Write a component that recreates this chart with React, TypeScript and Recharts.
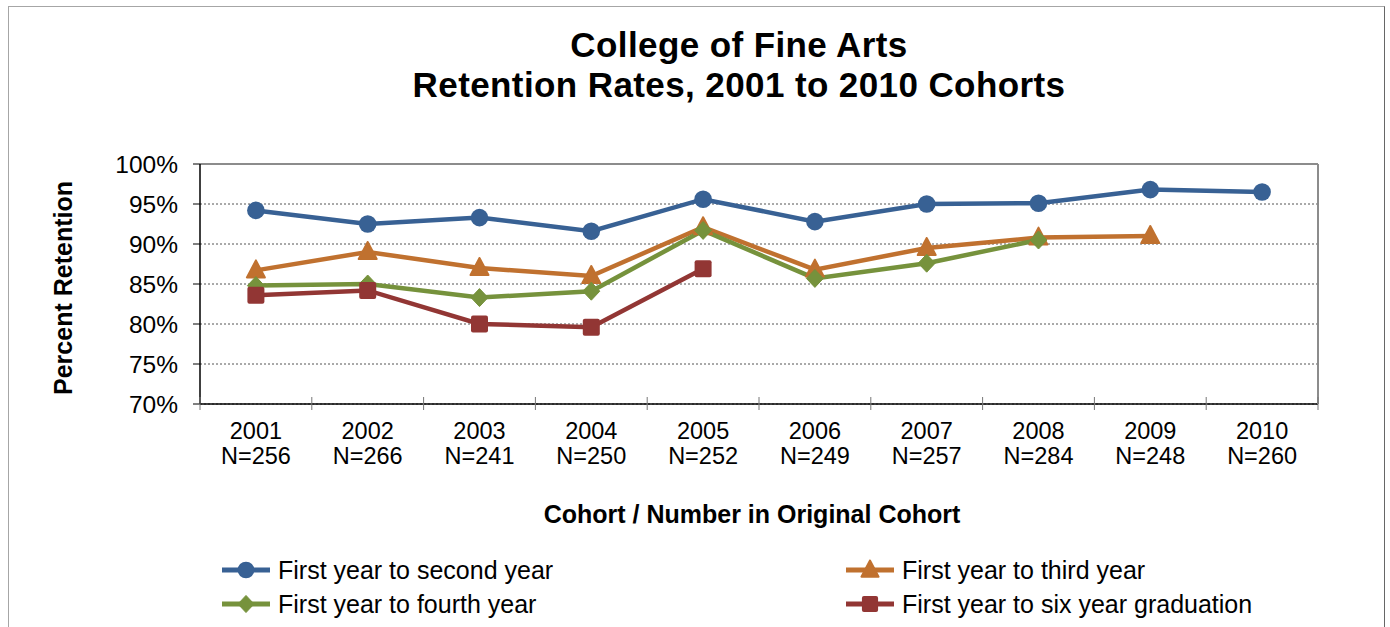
import React from 'react';
import { LineChart, Line, XAxis, YAxis, CartesianGrid, ReferenceLine, Legend } from 'recharts';

const years = ['2001', '2002', '2003', '2004', '2005', '2006', '2007', '2008', '2009', '2010'];
const cohortSizes = [256, 266, 241, 250, 252, 249, 257, 284, 248, 260];
const secondYear = [94.2, 92.5, 93.3, 91.6, 95.6, 92.8, 95.0, 95.1, 96.8, 96.5];
const thirdYear = [86.7, 89.0, 87.0, 86.0, 92.1, 86.8, 89.5, 90.8, 91.0, null];
const fourthYear = [84.8, 85.0, 83.3, 84.1, 91.7, 85.7, 87.6, 90.5, null, null];
const sixYearGrad = [83.6, 84.2, 80.0, 79.6, 86.9, null, null, null, null, null];
const yTicks = [70, 75, 80, 85, 90, 95, 100];

const titleLines = ['College of Fine Arts', 'Retention Rates, 2001 to 2010 Cohorts'];
const xTitle = 'Cohort / Number in Original Cohort';
const yTitle = 'Percent Retention';

const FONT = '"Liberation Sans", Arial, Helvetica, sans-serif';

type Shape = 'circle' | 'triangle' | 'diamond' | 'square';

const series: { key: string; name: string; color: string; shape: Shape; values: (number | null)[] }[] = [
  { key: 'second', name: 'First year to second year', color: '#386194', shape: 'circle', values: secondYear },
  { key: 'third', name: 'First year to third year', color: '#c0712f', shape: 'triangle', values: thirdYear },
  { key: 'fourth', name: 'First year to fourth year', color: '#76923c', shape: 'diamond', values: fourthYear },
  { key: 'six', name: 'First year to six year graduation', color: '#923634', shape: 'square', values: sixYearGrad },
];

const data = years.map((y, i) => {
  const row: any = { year: y, n: cohortSizes[i] };
  series.forEach((s) => {
    row[s.key] = s.values[i];
  });
  return row;
});

function marker(shape: Shape, cx: number, cy: number, color: string, scale = 1) {
  const s = scale;
  if (shape === 'circle') return <circle cx={cx} cy={cy} r={8.8 * s} fill={color} />;
  if (shape === 'triangle')
    return (
      <polygon
        points={`${cx},${cy - 10 * s} ${cx - 9 * s},${cy + 7 * s} ${cx + 9 * s},${cy + 7 * s}`}
        fill={color}
        stroke={color}
        strokeWidth={2}
        strokeLinejoin="round"
      />
    );
  if (shape === 'diamond')
    return (
      <polygon
        points={`${cx},${cy - 9 * s} ${cx + 8.5 * s},${cy} ${cx},${cy + 9 * s} ${cx - 8.5 * s},${cy}`}
        fill={color}
        stroke={color}
        strokeWidth={1}
        strokeLinejoin="round"
      />
    );
  return <rect x={cx - 8.5 * s} y={cy - 8.5 * s} width={17 * s} height={17 * s} rx={2} fill={color} />;
}

const makeDot = (shape: Shape, color: string) => (props: any) => {
  const { cx, cy, index, value } = props;
  if (cx == null || cy == null || value == null || Number.isNaN(cy)) return <g key={`d-${index}`} />;
  return <g key={`d-${index}`}>{marker(shape, cx, cy, color)}</g>;
};

const XTick = (props: any) => {
  const { x, y, payload, index, visibleTicksCount } = props;
  const off = payload && payload.offset ? payload.offset : 0;
  const n = cohortSizes[index];
  const isLast = index === (visibleTicksCount ? visibleTicksCount - 1 : years.length - 1);
  return (
    <g>
      <line x1={x - off} x2={x - off} y1={y - 7} y2={y + 6} stroke="#777" strokeWidth={1} />
      {isLast && <line x1={x + off} x2={x + off} y1={y - 7} y2={y + 6} stroke="#777" strokeWidth={1} />}
      <text x={x} y={y + 35} textAnchor="middle" fontSize={23.5} fontFamily={FONT} fill="#000">
        {payload.value}
      </text>
      <text x={x} y={y + 60} textAnchor="middle" fontSize={23.5} fontFamily={FONT} fill="#000">
        {`N=${n}`}
      </text>
    </g>
  );
};

const legendPos = [
  { left: 222, top: 22 },
  { left: 846, top: 22 },
  { left: 222, top: 56 },
  { left: 846, top: 56 },
];

const LegendContent = () => (
  <div style={{ position: 'relative', width: 1390, height: 80 }}>
    {series.map((s, i) => (
      <div
        key={s.key}
        style={{
          position: 'absolute',
          left: legendPos[i].left,
          top: legendPos[i].top - 15,
          height: 30,
          display: 'flex',
          alignItems: 'center',
          whiteSpace: 'nowrap',
        }}
      >
        <svg width={48} height={30} style={{ display: 'block' }}>
          <line x1={0} x2={48} y1={15} y2={15} stroke={s.color} strokeWidth={5} />
          {marker(s.shape, 24, 15, s.color, 0.95)}
        </svg>
        <span style={{ marginLeft: 8, fontSize: 25, fontFamily: FONT, color: '#000', lineHeight: '30px' }}>
          {s.name}
        </span>
      </div>
    ))}
  </div>
);

export default function App() {
  return (
    <div
      style={{
        position: 'fixed',
        left: 0,
        top: 0,
        width: 1390,
        height: 627,
        overflow: 'hidden',
        background: '#fff',
        fontFamily: FONT,
      }}
    >
      <div
        style={{
          position: 'absolute',
          left: 8,
          top: 6,
          width: 1375,
          height: 700,
          borderLeft: '1px solid #a6a6a6',
          borderTop: '1px solid #a6a6a6',
          borderRight: '1px solid #666',
        }}
      />
      {titleLines.map((t, i) => (
        <div
          key={t}
          style={{
            position: 'absolute',
            left: 739,
            top: i === 0 ? 26.6 : 67,
            transform: 'translateX(-50%)',
            whiteSpace: 'nowrap',
            fontSize: 35,
            lineHeight: '35px',
            letterSpacing: 0.4,
            fontWeight: 'bold',
            color: '#000',
          }}
        >
          {t}
        </div>
      ))}
      <div
        style={{
          position: 'absolute',
          left: 752,
          top: 502,
          transform: 'translateX(-50%)',
          whiteSpace: 'nowrap',
          fontSize: 25,
          lineHeight: '25px',
          fontWeight: 'bold',
          color: '#000',
        }}
      >
        {xTitle}
      </div>
      <div
        style={{
          position: 'absolute',
          left: 63,
          top: 288,
          transform: 'translate(-50%, -50%) rotate(-90deg)',
          whiteSpace: 'nowrap',
          fontSize: 25,
          lineHeight: '25px',
          fontWeight: 'bold',
          color: '#000',
        }}
      >
        {yTitle}
      </div>
      <div style={{ position: 'absolute', left: 0, top: 0 }}>
        <LineChart width={1390} height={627} data={data} margin={{ top: 164, right: 70, left: 80, bottom: 153 }}>
          <CartesianGrid yAxisId="l" horizontal vertical={false} stroke="#555" strokeDasharray="2 2" strokeWidth={1} />
          <XAxis
            dataKey="year"
            type="category"
            scale="band"
            height={70}
            tickLine={false}
            tickSize={0}
            tickMargin={0}
            axisLine={{ stroke: '#000', strokeWidth: 1.5 }}
            tick={<XTick />}
            interval={0}
          />
          <YAxis
            yAxisId="l"
            domain={[70, 100]}
            ticks={yTicks}
            width={120}
            tickSize={7}
            tickMargin={15}
            allowDataOverflow
            axisLine={{ stroke: '#000', strokeWidth: 1.5 }}
            tickLine={{ stroke: '#000' }}
            tick={{ fontSize: 24.5, fontFamily: FONT, fill: '#000' }}
            tickFormatter={(v: number) => `${v}%`}
          />
          <YAxis
            yAxisId="r"
            orientation="right"
            domain={[70, 100]}
            width={2}
            tick={false}
            tickLine={false}
            axisLine={{ stroke: '#8c8c8c', strokeWidth: 2 }}
          />
          <ReferenceLine yAxisId="l" y={100} stroke="#8c8c8c" strokeWidth={2} />
          {series.map((s) => (
            <Line
              key={s.key}
              yAxisId="l"
              type="linear"
              dataKey={s.key}
              name={s.name}
              stroke={s.color}
              strokeWidth={4.5}
              dot={makeDot(s.shape, s.color)}
              activeDot={false}
              isAnimationActive={false}
              connectNulls={false}
            />
          ))}
          <Legend
            layout="horizontal"
            verticalAlign="middle"
            align="center"
            content={<LegendContent />}
            wrapperStyle={{ position: 'absolute', left: 0, top: 548, width: 1390, height: 80 }}
          />
        </LineChart>
      </div>
    </div>
  );
}
